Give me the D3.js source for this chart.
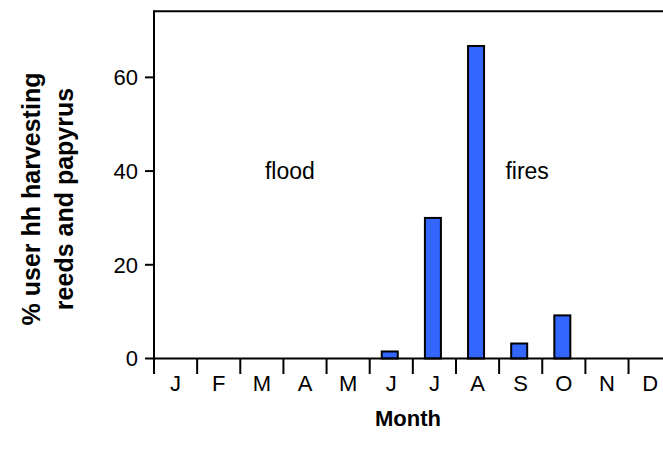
<!DOCTYPE html>
<html><head><meta charset="utf-8">
<script src="https://cdn.jsdelivr.net/npm/d3@7"></script>
<style>body{margin:0;background:#fff}svg{display:block}text{font-family:"Liberation Sans",Arial,sans-serif;fill:#000}</style>
</head><body><svg id="c" width="663" height="455"></svg>
<script>
const months = ["J","F","M","A","M","J","J","A","S","O","N","D"];
const values = [0,0,0,0,0,1.5,30,66.7,3.2,9.2,0,0];
const yTicks = [0,20,40,60];
const yTitle = ["% user hh harvesting","reeds and papyrus"];
const xTitle = "Month";
const notes = [{text:"flood", month:3.15, value:40},{text:"fires", month:8.65, value:40}];

(function(){
const svg = d3.select("#c");
const pLeft = 154, pTop = 11.3, pBase = 358.5, pRight = 663;
const x = d3.scaleBand().domain(d3.range(12)).range([pLeft, pLeft + 12*43.14]);
const y = d3.scaleLinear().domain([0, 74.1]).range([pBase, pTop]);
const lw = 2;

const bw = 16;
svg.selectAll("rect.bar").data(values.map((v,i)=>({v,i})).filter(d=>d.v>0)).enter()
  .append("rect").attr("class","bar")
  .attr("x", d => x(d.i) + x.bandwidth()/2 - bw/2 - 1.5)
  .attr("width", bw)
  .attr("y", d => y(d.v))
  .attr("height", d => pBase - y(d.v))
  .attr("fill","#3366ff").attr("stroke","#000").attr("stroke-width",lw);

svg.append("line").attr("x1",pLeft).attr("x2",pRight).attr("y1",pTop).attr("y2",pTop).attr("stroke","#000").attr("stroke-width",lw);
svg.append("line").attr("x1",pLeft).attr("x2",pRight).attr("y1",pBase).attr("y2",pBase).attr("stroke","#000").attr("stroke-width",lw);
svg.append("line").attr("x1",pLeft).attr("x2",pLeft).attr("y1",pTop-1).attr("y2",pBase+15.5).attr("stroke","#000").attr("stroke-width",lw);

svg.selectAll("line.xt").data(d3.range(1,12)).enter().append("line")
  .attr("x1", i => x(i)).attr("x2", i => x(i))
  .attr("y1", pBase).attr("y2", pBase+15.5).attr("stroke","#000").attr("stroke-width",lw);
svg.selectAll("text.xl").data(months).enter().append("text")
  .attr("x",(d,i)=>x(i)+x.bandwidth()/2).attr("y",391)
  .attr("text-anchor","middle").attr("font-size",22).text(d=>d);

svg.selectAll("line.yt").data(yTicks).enter().append("line")
  .attr("x1",pLeft-9).attr("x2",pLeft).attr("y1",d=>y(d)).attr("y2",d=>y(d))
  .attr("stroke","#000").attr("stroke-width",lw);
svg.selectAll("text.yl").data(yTicks).enter().append("text")
  .attr("x",pLeft-16).attr("y",d=>y(d)).attr("dy","0.36em")
  .attr("text-anchor","end").attr("font-size",22).text(d=>d);

svg.append("text").attr("x",408).attr("y",426).attr("text-anchor","middle")
  .attr("font-size",22).attr("font-weight","bold").text(xTitle);
yTitle.forEach((t,k)=>{
  svg.append("text").attr("transform",`translate(${40+k*33},199) rotate(-90)`)
    .attr("text-anchor","middle").attr("font-size",25).attr("font-weight","bold").text(t);
});

notes.forEach(n=>{
  svg.append("text").attr("x", x(0) + n.month*x.step()).attr("y", y(n.value)).attr("dy","0.36em")
    .attr("text-anchor","middle").attr("font-size",23).text(n.text);
});
})();
</script></body></html>
